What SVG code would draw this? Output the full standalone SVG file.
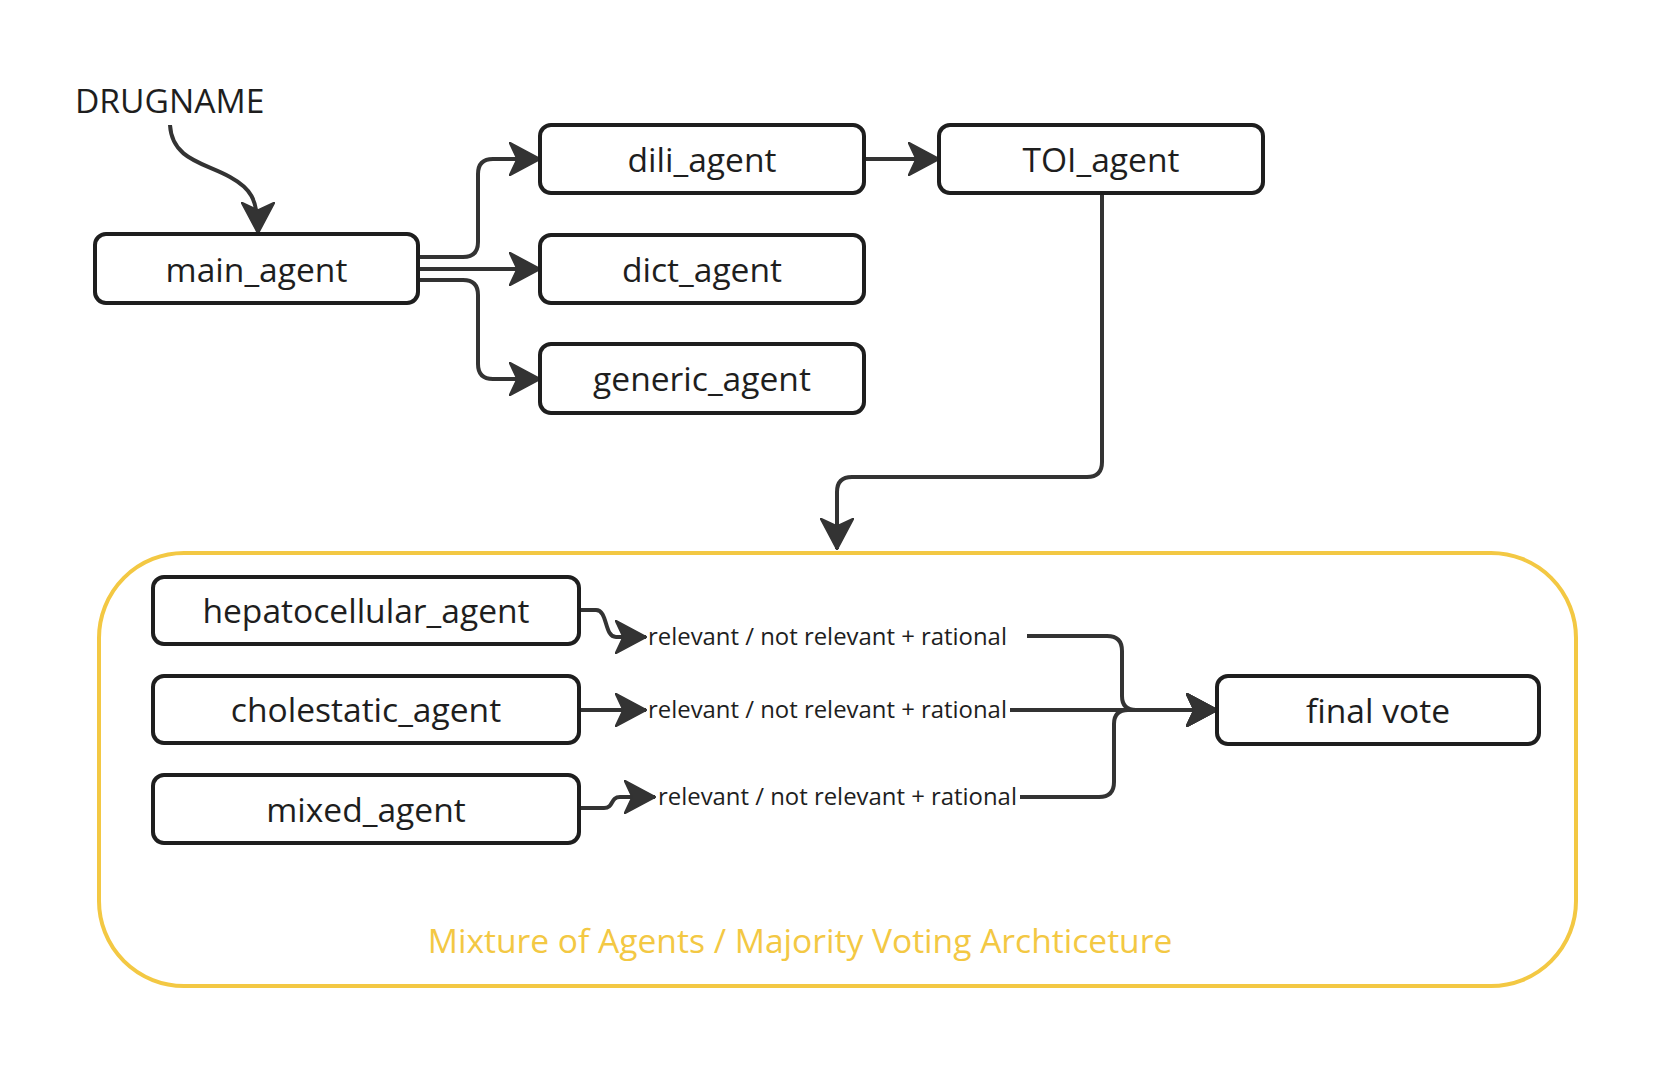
<svg xmlns="http://www.w3.org/2000/svg" width="1666" height="1092" viewBox="0 0 1666 1092">
  <style>
    .box { fill: #ffffff; stroke: #1e1e1e; stroke-width: 4; }
    .lbl { font-family: "Open Sans", "Liberation Sans", sans-serif; font-size: 33.6px; fill: #1e1e1e; text-anchor: middle; }
    .edge { fill: none; stroke: #333333; stroke-width: 4; stroke-linecap: butt; stroke-linejoin: round; }
    .elbl { font-family: "Open Sans", "Liberation Sans", sans-serif; font-size: 23.9px; fill: #1e1e1e; }
    .cont { fill: none; stroke: #F3C843; stroke-width: 4; }
    .ctitle { font-family: "Open Sans", "Liberation Sans", sans-serif; font-size: 33.6px; fill: #F3C843; text-anchor: middle; }
  </style>
  <defs>
    <marker id="arrow" markerUnits="userSpaceOnUse" viewBox="0 0 32 34" refX="31" refY="17" markerWidth="32" markerHeight="34" orient="auto">
      <path d="M0,0 L32,17 L0,34 L8,17 Z" fill="#333333" stroke="#333333" stroke-width="1.5" stroke-linejoin="round"/>
    </marker>
  </defs>
  <rect width="1666" height="1092" fill="#ffffff"/>

  <g id="container">
    <rect class="cont" x="99" y="553" width="1477" height="433" rx="85" ry="85"/>
    <text class="ctitle" x="800" y="953">Mixture of Agents / Majority Voting Archticeture</text>
  </g>

  <g id="connectors">
    <path class="edge" d="M170,125 C172,160 205,163 230,177 C250,188 258,198 258,233" marker-end="url(#arrow)"/>
    <path class="edge" d="M418,257 H463 Q478,257 478,242 V174 Q478,159 493,159 H540" marker-end="url(#arrow)"/>
    <path class="edge" d="M418,269 H540" marker-end="url(#arrow)"/>
    <path class="edge" d="M418,280 H463 Q478,280 478,295 V364 Q478,379 493,379 H540" marker-end="url(#arrow)"/>
    <path class="edge" d="M864,159 H939" marker-end="url(#arrow)"/>
    <path class="edge" d="M1102,193 V462 Q1102,477 1087,477 H852 Q837,477 837,492 V549" marker-end="url(#arrow)"/>
    <path class="edge" d="M579,610 H596 C608,610 604,637 616,637 H646" marker-end="url(#arrow)"/>
    <path class="edge" d="M579,710 H646" marker-end="url(#arrow)"/>
    <path class="edge" d="M579,808 H604 C614,808 610,797 620,797 H655" marker-end="url(#arrow)"/>
    <path class="edge" d="M1027,636 H1107 Q1122,636 1122,651 V696 Q1122,710 1136,710 H1217" marker-end="url(#arrow)"/>
    <path class="edge" d="M1010,710 H1217" marker-end="url(#arrow)"/>
    <path class="edge" d="M1020,797 H1099 Q1114,797 1114,782 V724 Q1114,710 1128,710 H1217" marker-end="url(#arrow)"/>
    <text class="elbl" x="648" y="645">relevant / not relevant + rational</text>
    <text class="elbl" x="648" y="718">relevant / not relevant + rational</text>
    <text class="elbl" x="658" y="805">relevant / not relevant + rational</text>
  </g>

  <g id="drugname">
    <text x="75" y="113" font-family="'Open Sans', 'Liberation Sans', sans-serif" font-size="33.6" fill="#1e1e1e">DRUGNAME</text>
  </g>

  <g id="main_agent">
    <rect class="box" x="95" y="234" width="323" height="69" rx="11"/>
    <text class="lbl" x="256.5" y="282">main_agent</text>
  </g>
  <g id="dili_agent">
    <rect class="box" x="540" y="125" width="324" height="68" rx="11"/>
    <text class="lbl" x="702" y="172">dili_agent</text>
  </g>
  <g id="dict_agent">
    <rect class="box" x="540" y="235" width="324" height="68" rx="11"/>
    <text class="lbl" x="702" y="282">dict_agent</text>
  </g>
  <g id="generic_agent">
    <rect class="box" x="540" y="344" width="324" height="69" rx="11"/>
    <text class="lbl" x="702" y="391">generic_agent</text>
  </g>
  <g id="TOI_agent">
    <rect class="box" x="939" y="125" width="324" height="68" rx="11"/>
    <text class="lbl" x="1101" y="172">TOI_agent</text>
  </g>
  <g id="hepatocellular_agent">
    <rect class="box" x="153" y="577" width="426" height="67" rx="11"/>
    <text class="lbl" x="366" y="623">hepatocellular_agent</text>
  </g>
  <g id="cholestatic_agent">
    <rect class="box" x="153" y="676" width="426" height="67" rx="11"/>
    <text class="lbl" x="366" y="722">cholestatic_agent</text>
  </g>
  <g id="mixed_agent">
    <rect class="box" x="153" y="775" width="426" height="68" rx="11"/>
    <text class="lbl" x="366" y="822">mixed_agent</text>
  </g>
  <g id="final_vote">
    <rect class="box" x="1217" y="676" width="322" height="68" rx="11"/>
    <text class="lbl" x="1378" y="723">final vote</text>
  </g>
</svg>
